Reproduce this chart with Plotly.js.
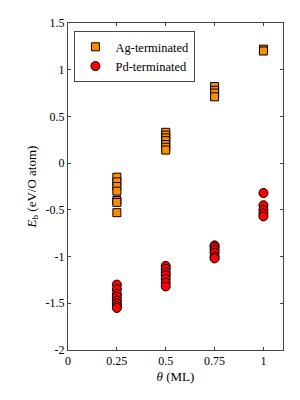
<!DOCTYPE html>
<html><head><meta charset="utf-8">
<script src="https://cdn.plot.ly/plotly-3.0.1.min.js"></script>
<style>body{margin:0;padding:0;background:#fff}#c{width:300px;height:400px}</style>
</head><body><div id="c"></div>
<script>
const agTheta = [0.25,0.25,0.25,0.25,0.25,0.25,0.25, 0.5,0.5,0.5,0.5,0.5,0.5,0.5, 0.75,0.75,0.75,0.75, 1,1];
const agEb    = [-0.15,-0.2,-0.25,-0.3,-0.4,-0.42,-0.53, 0.33,0.3,0.27,0.24,0.2,0.17,0.14, 0.82,0.78,0.75,0.71, 1.22,1.2];
const pdTheta = [0.25,0.25,0.25,0.25,0.25,0.25,0.25,0.25, 0.5,0.5,0.5,0.5,0.5,0.5,0.5, 0.75,0.75,0.75,0.75,0.75,0.75, 1,1,1,1,1];
const pdEb    = [-1.3,-1.35,-1.4,-1.43,-1.47,-1.5,-1.53,-1.55, -1.1,-1.13,-1.17,-1.2,-1.24,-1.28,-1.32, -0.88,-0.9,-0.93,-0.96,-1.0,-1.02, -0.32,-0.45,-0.5,-0.54,-0.57];
const xTicks = [0,0.25,0.5,0.75,1];
const xTickLabels = ['0','0.25','0.5','0.75','1'];
const yTicks = [-2,-1.5,-1,-0.5,0,0.5,1,1.5];
const yTickLabels = ['-2','-1.5','-1','-0.5','0','0.5','1','1.5'];

const fam = 'Liberation Serif';
const font = {family:fam, size:12, color:'#000'};
const data = [
  {x:agTheta, y:agEb, type:'scatter', mode:'markers', name:'Ag-terminated',
   marker:{symbol:'square', size:8, color:'#FF8C00', line:{color:'#000', width:1}}},
  {x:pdTheta, y:pdEb, type:'scatter', mode:'markers', name:'Pd-terminated',
   marker:{symbol:'circle', size:9, color:'#FF0000', line:{color:'#000', width:1}}}
];
const axisCommon = {showgrid:false, zeroline:false, showline:true, linecolor:'#444', linewidth:1,
  mirror:'ticks', ticks:'inside', ticklen:3, tickcolor:'#444', tickfont:font};
const layout = {
  width:300, height:400, margin:{l:68, r:17, t:23, b:50},
  paper_bgcolor:'#fff', plot_bgcolor:'#fff', font:font,
  xaxis:Object.assign({}, axisCommon, {range:[0,1.1], tickvals:xTicks, ticktext:xTickLabels,
    title:{text:'<i>θ</i> (ML)', font:{family:fam, size:13}, standoff:4}}),
  yaxis:Object.assign({}, axisCommon, {range:[-2,1.5], tickvals:yTicks, ticktext:yTickLabels,
    title:{text:'<i>E</i><sub>b</sub> (eV/O atom)', font:{family:fam, size:13}, standoff:6}}),
  showlegend:true,
  legend:{x:0.03, y:0.975, xanchor:'left', yanchor:'top', bgcolor:'#fff', bordercolor:'#444', borderwidth:1,
    font:{family:fam, size:12.5}, itemwidth:30, tracegroupgap:0}
};
Plotly.newPlot('c', data, layout, {displayModeBar:false, staticPlot:true});
</script></body></html>
